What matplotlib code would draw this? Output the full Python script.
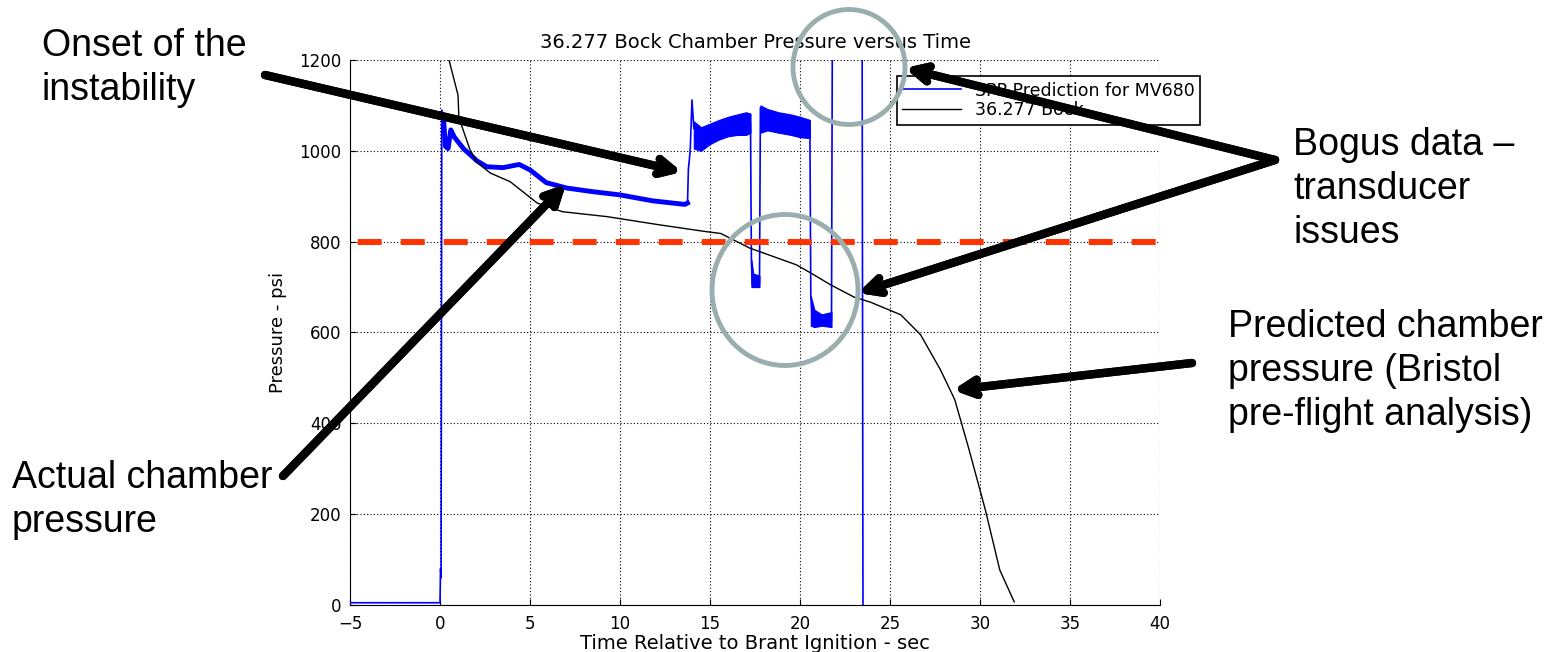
import matplotlib.pyplot as plt
from matplotlib.patches import Ellipse

# actual chamber pressure (blue trace), centre line
blue_t = [-5, 0.0, 0.03, 0.06, 0.1, 0.2, 0.3, 0.45, 0.6, 0.8, 1.3, 2.05, 2.6, 3.5, 4.4, 5.0,
          5.9, 7.05, 8.5, 10.0, 11.8, 13.6, 13.75, 13.8, 13.9, 14.0, 14.1, 14.5, 15.0, 16.0,
          17.0, 17.25, 17.3, 17.35, 17.75, 17.8, 18.5, 19.5, 20.55, 20.6, 20.7, 21.75, 21.8,
          23.45, 23.5]
blue_p = [5, 5, 80, 60, 1090, 1070, 1010, 1005, 1046, 1030, 1005, 978, 965, 963, 970, 958,
          930, 918, 910, 903, 890, 882, 885, 960, 1000, 1112, 1050, 1025, 1035, 1048,
          1058, 1060, 760, 705, 710, 1095, 1070, 1065, 1050, 680, 625, 625, 1300,
          1300, -20]

# noisy stretch right after ignition (drawn thick)
thick_t = [0.2, 0.3, 0.45, 0.6, 0.8, 1.3, 2.05, 2.6, 3.5, 4.4, 5.0, 5.9, 7.05, 8.5, 10.0,
           11.8, 13.6, 13.75]
thick_p = [1070, 1010, 1005, 1046, 1030, 1005, 978, 965, 963, 970, 958, 930, 918, 910, 903,
           890, 882, 885]

# oscillation envelopes after the onset of the instability
band1_t = [14.1, 14.5, 15.0, 15.5, 16.0, 16.5, 17.0, 17.25]
band1_lo = [1005, 1000, 1015, 1025, 1032, 1035, 1035, 1040]
band1_hi = [1065, 1052, 1060, 1068, 1075, 1080, 1085, 1082]
band2_t = [17.3, 17.4, 17.75]
band2_lo = [700, 700, 700]
band2_hi = [760, 730, 725]
band3_t = [17.8, 18.2, 18.8, 19.5, 20.0, 20.55]
band3_lo = [1040, 1045, 1040, 1035, 1030, 1028]
band3_hi = [1100, 1092, 1085, 1080, 1075, 1068]
band4_t = [20.6, 20.8, 21.2, 21.75]
band4_lo = [615, 612, 615, 612]
band4_hi = [680, 650, 640, 645]

# Bristol pre-flight prediction (black)
pred_t = [0.5, 1.0, 1.05, 1.67, 2.1, 2.8, 3.9, 5.4, 6.8, 9.3, 12.2, 14.8, 15.6, 17.2, 19.8,
          20.6, 21.7, 23.0, 23.9, 25.6, 26.7, 27.8, 28.6, 29.4, 30.3, 31.1, 31.9]
pred_p = [1200, 1123, 1073, 1002, 973, 951, 932, 885, 866, 855, 837, 822, 818, 786, 749,
          731, 705, 678, 667, 639, 595, 518, 452, 341, 209, 77, 7]

limit_p = 800

xticks = [-5, 0, 5, 10, 15, 20, 25, 30, 35, 40]
yticks = [0, 200, 400, 600, 800, 1000, 1200]

W, H = 1549, 652
fig = plt.figure(figsize=(W / 100, H / 100), dpi=100)
ax = fig.add_axes([350 / W, (H - 605) / H, 810 / W, 545 / H])

ax.plot([-5, 40], [limit_p, limit_p], color='#ff3300', lw=4.3,
        linestyle=(5.9, (4, 3.2)), zorder=4)
ax.plot(blue_t, blue_p, color='blue', lw=1.2, label='SPP Prediction for MV680', zorder=3)
ax.plot(thick_t, thick_p, color='blue', lw=3.5, zorder=3)
for bt, lo, hi in [(band1_t, band1_lo, band1_hi), (band2_t, band2_lo, band2_hi),
                   (band3_t, band3_lo, band3_hi), (band4_t, band4_lo, band4_hi)]:
    ax.fill_between(bt, lo, hi, color='blue', lw=0.8, edgecolor='blue', zorder=3)
ax.plot(pred_t, pred_p, color='black', lw=1.0, label='36.277 Bock', zorder=3)

ax.set_xlim(-5, 40)
ax.set_ylim(0, 1200)
ax.set_xticks(xticks)
ax.set_yticks(yticks)
ax.grid(True, color='black', linestyle=(0, (1, 2)), lw=0.8)
ax.spines['top'].set_visible(False)
ax.spines['right'].set_visible(False)
ax.tick_params(direction='in', length=4, labelsize=12)
ax.tick_params(axis='x', pad=7)
ax.tick_params(axis='y', pad=6)
ax.set_title('36.277 Bock Chamber Pressure versus Time', fontsize=14, pad=9)
ax.set_xlabel('Time Relative to Brant Ignition - sec', fontsize=14, labelpad=1)
ax.set_ylabel('Pressure - psi', fontsize=13, labelpad=9)

leg = ax.legend(loc='upper left', bbox_to_anchor=(0.675, 0.97), fontsize=12.5, fancybox=False,
                edgecolor='black', framealpha=1, borderaxespad=0, handlelength=3.4,
                labelspacing=0.1, borderpad=0.3)
leg.get_frame().set_linewidth(1.2)
leg.set_zorder(5)

# annotation layer, in figure pixels
ann_font = ['Liberation Sans', 'DejaVu Sans']
notes = [(42, 68, 'Onset of the\ninstability'),
         (12, 500, 'Actual chamber\npressure'),
         (1293, 189, 'Bogus data –\ntransducer\nissues'),
         (1228, 371, 'Predicted chamber\npressure (Bristol\npre-flight analysis)')]
for x, y, s in notes:
    fig.text(x, H - y, s, fontsize=27, family=ann_font, va='center', ha='left',
             transform=None, linespacing=1.3)

for c, w, h in [((849, 67), 112, 115), ((785, 290), 146, 151)]:
    e = Ellipse((c[0] / W, 1 - c[1] / H), w / W, h / H, transform=fig.transFigure,
                fill=False, edgecolor='#9aaeae', lw=3.5, zorder=10)
    fig.add_artist(e)

arrows = [((265, 75), (682, 172)), ((283, 476), (566, 184)), ((1275, 160), (905, 68)),
          ((1275, 160), (858, 293)), ((1192, 363), (953, 390))]
for start, tip in arrows:
    fig.add_artist(plt.annotate('', xy=(tip[0], H - tip[1]), xytext=(start[0], H - start[1]),
                                xycoords='figure pixels', textcoords='figure pixels',
                                arrowprops=dict(arrowstyle='->,head_length=1.1,head_width=0.55',
                                                lw=6, color='black', shrinkA=0, shrinkB=0),
                                zorder=11))

fig.savefig('out.png', dpi=100)
